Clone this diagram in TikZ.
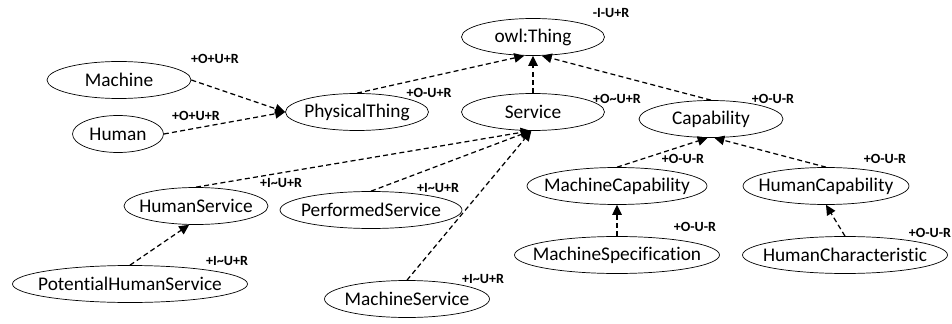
\documentclass[tikz,border=0pt]{standalone}
\usepackage{fontspec}
\setmainfont{Carlito}[Ligatures=NoCommon]
\usetikzlibrary{shapes.geometric, arrows.meta}

\begin{document}
\begin{tikzpicture}[x=0.02cm, y=-0.02cm,
    cls/.style={ellipse, draw, thin, inner sep=0pt, minimum height=0.74cm,
                font=\fontsize{11}{13}\selectfont},
    tag/.style={inner sep=0pt, font=\fontsize{8}{9}\selectfont\bfseries},
    isa/.style={line width=0.7pt, dash pattern=on 1mm off 0.65mm,
                -{Triangle[length=2mm, width=1.9mm]}}]
    \useasboundingbox (0,0) rectangle (952,324);

    % classes
    \node[cls, minimum width=2.86cm] (owl) at (533,37) {\makebox[0pt]{owl:Thing}};
    \node[cls, minimum width=2.86cm] (physthing) at (357,112) {\makebox[0pt]{PhysicalThing}};
    \node[cls, minimum width=2.86cm] (service) at (533,112) {\makebox[0pt]{Service}};
    \node[cls, minimum width=2.88cm] (capability) at (711,119) {\makebox[0pt]{Capability}};
    \node[cls, minimum width=2.88cm] (machine) at (119,80) {\makebox[0pt]{Machine}};
    \node[cls, minimum width=1.82cm] (human) at (118,134) {\makebox[0pt]{Human}};
    \node[cls, minimum width=2.88cm] (humanservice) at (196,206) {\makebox[0pt]{HumanService}};
    \node[cls, minimum width=3.64cm] (performed) at (371,210) {\makebox[0pt]{PerformedService}};
    \node[cls, minimum width=4.70cm] (potential) at (130,284) {\makebox[0pt]{PotentialHumanService}};
    \node[cls, minimum width=3.30cm] (machineservice) at (407,299) {\makebox[0pt]{MachineService}};
    \node[cls, minimum width=3.60cm] (machinecap) at (617,186) {\makebox[0pt]{MachineCapability}};
    \node[cls, minimum width=3.32cm] (humancap) at (826,186) {\makebox[0pt]{HumanCapability}};
    \node[cls, minimum width=4.10cm] (machinespec) at (617,255) {\makebox[0pt]{MachineSpecification}};
    \node[cls, minimum width=4.10cm] (humanchar) at (845,255) {\makebox[0pt]{HumanCharacteristic}};

    % subclass links
    \draw[isa] (machine.east) -- (physthing.west);
    \draw[isa] (human.east) -- (physthing.west);
    \draw[isa] (physthing.north) -- (owl.-115);
    \draw[isa] (service.north) -- (owl.south);
    \draw[isa] (capability.north) -- (owl.-65);
    \draw[isa] (humanservice.north) -- (service.-97);
    \draw[isa] (performed.north) -- (service.-97);
    \draw[isa] (machineservice.north) -- (service.-95);
    \draw[isa] (potential.north) -- (humanservice.-110);
    \draw[isa] (machinecap.north) -- (capability.-100);
    \draw[isa] (humancap.north) -- (capability.-80);
    \draw[isa] (machinespec.north) -- (machinecap.south);
    \draw[isa] (humanchar.north) -- (humancap.south);

    % tags
    \node[tag] (owl_label) at (611,13) {-I-U+R};
    \node[tag] (machine_label) at (215,59) {+O+U+R};
    \node[tag] (human_label) at (196,116) {+O+U+R};
    \node[tag] (physthing_label) at (429,93) {+O-U+R};
    \node[tag] (service_label) at (617,99) {+O\textasciitilde U+R};
    \node[tag] (capability_label) at (773,99) {+O-U-R};
    \node[tag] (machinecap_label) at (683,159) {+O-U-R};
    \node[tag] (humancap_label) at (885,159) {+O-U-R};
    \node[tag] (machinespec_label) at (695,227) {+O-U-R};
    \node[tag] (humanchar_label) at (930,233) {+O-U-R};
    \node[tag] (humanservice_label) at (281,183) {+I\textasciitilde U+R};
    \node[tag] (performed_label) at (438,188) {+I\textasciitilde U+R};
    \node[tag] (potential_label) at (227,261) {+I\textasciitilde U+R};
    \node[tag] (machineservice_label) at (483,279) {+I\textasciitilde U+R};
\end{tikzpicture}
\end{document}
